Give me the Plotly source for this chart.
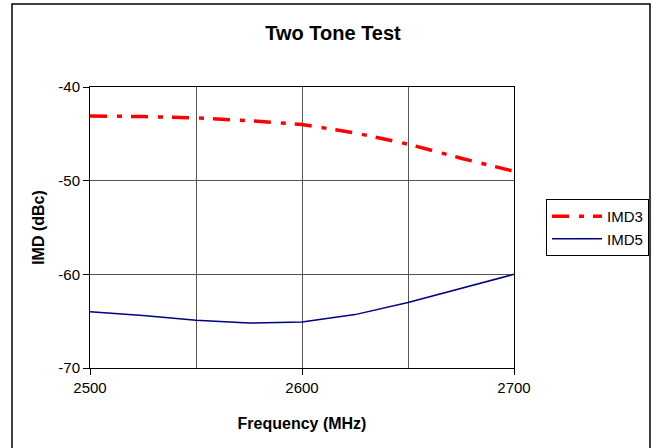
import plotly.graph_objects as go

freq = [2500, 2525, 2550, 2575, 2600, 2625, 2650, 2675, 2700]
imd3 = [-43.1, -43.15, -43.3, -43.6, -44.0, -44.9, -46.1, -47.6, -49.0]
imd5 = [-64.0, -64.4, -64.9, -65.2, -65.1, -64.3, -63.0, -61.5, -60.0]
x_ticks = [2500, 2600, 2700]
x_labels = ["2500", "2600", "2700"]
y_ticks = [-40, -50, -60, -70]
y_labels = ["-40", "-50", "-60", "-70"]

W, H = 652, 448
L, R, T, B = 90, 514, 87, 368
pw, ph = R - L, B - T

def px(x):
    return (x - L) / pw

def py(y):
    return (B - y) / ph

font = "Liberation Sans, Arial, sans-serif"

fig = go.Figure()
fig.add_trace(go.Scatter(x=freq, y=imd3, mode="lines", name="IMD3", legendgroup="a",
                         line=dict(color="#ff0000", width=3.5, dash="17px,10px,5px,9px")))
fig.add_trace(go.Scatter(x=freq, y=imd5, mode="lines", name="IMD5", legendgroup="b",
                         line=dict(color="#000080", width=1.5)))

fig.update_layout(
    width=W, height=H,
    margin=dict(l=L, r=W - R, t=T, b=H - B, pad=0, autoexpand=False),
    paper_bgcolor="white", plot_bgcolor="white",
    font=dict(family=font, size=15, color="black"),
    title=dict(text="<b>Two Tone Test</b>", x=px(333), xref="paper", xanchor="center",
               y=1 - 33 / H, yref="container", yanchor="middle",
               font=dict(size=20, family=font, color="black")),
    showlegend=True,
    legend=dict(x=px(546), y=py(199), xanchor="left", yanchor="top",
                bordercolor="black", borderwidth=1, bgcolor="white",
                font=dict(size=15, family=font), tracegroupgap=8,
                traceorder="normal", itemwidth=50),
    xaxis=dict(range=[2500, 2700], tickvals=x_ticks, ticktext=x_labels, ticks="outside",
               ticklen=6, tickcolor="black", showline=True, linecolor="black", linewidth=1,
               mirror=True, showgrid=True, gridcolor="#555555", gridwidth=1,
               zeroline=False, tickfont=dict(size=15), automargin=False,
               title=dict(text="<b>Frequency (MHz)</b>", font=dict(size=16), standoff=22)),
    yaxis=dict(range=[-70, -40], tickvals=y_ticks, ticktext=y_labels, ticks="outside",
               ticklen=6, tickcolor="black", showline=True, linecolor="black", linewidth=1,
               mirror=True, showgrid=True, gridcolor="#555555", gridwidth=1,
               zeroline=False, tickfont=dict(size=15), automargin=False,
               title=dict(text="<b>IMD (dBc)</b>", font=dict(size=16), standoff=9)),
)
fig.update_xaxes(minor=dict(tickvals=[2550, 2650], showgrid=True, gridcolor="#555555",
                            gridwidth=1, ticks=""))

fig.add_shape(type="rect", xref="paper", yref="paper",
              x0=px(12), x1=px(650), y0=py(4), y1=py(460),
              line=dict(color="black", width=1.5), fillcolor="rgba(0,0,0,0)", layer="below")

fig.write_html("out.html", config={"displayModeBar": False},
               post_script="document.body.style.margin='0';document.body.style.padding='0';")
